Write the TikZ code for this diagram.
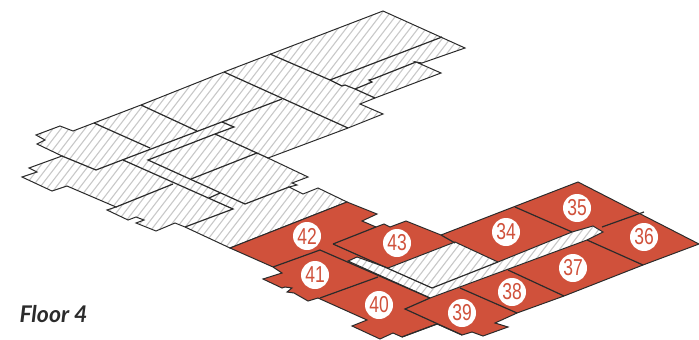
\documentclass[tikz,border=0pt]{standalone}
\usepackage{fontspec}
\setmainfont{Lato}
\newfontfamily\numfont[FakeStretch=0.76]{Liberation Sans}
\definecolor{brick}{HTML}{D0513B}
\definecolor{ink}{HTML}{2B2B2B}
\definecolor{hatch}{HTML}{C8C8C8}
\tikzset{
  wall/.style={draw=ink,line width=1pt,line join=miter},
  inner/.style={draw=ink,line width=1.2pt},
  hatchline/.style={draw=hatch,line width=1.1pt},
  numdot/.style={circle,fill=white,inner sep=0pt,minimum size=28pt,text=brick,font=\numfont\fontsize{23}{23}\selectfont},
  caption/.style={text=ink,font=\itshape\bfseries\fontsize{23}{23}\selectfont,anchor=west}
}
\def\upperoutline{(36,135)--(60,126)--(73,131)--(141,105)--(224,72)--(383,11)--(465,48)--(422,63)--(416,62)--(441,73)--(375,98)--(360,104)--(383,114)--(348,128)--(268,158)--(308,177)--(292,183)--(297,185)--(289,187)--(303,194)--(318,188)--(347,202)--(230,248)--(185,227)--(175,223)--(156,231)--(136,223)--(144,220)--(136,217)--(128,220)--(107,210)--(116,207)--(67,186)--(52,191)--(22,177)--(37,172)--(29,168)--(62,156)--(37,144)--(45,140)--cycle}
\def\holeoutline{(348,261)--(357,257)--(388,268)--(455,242)--(498,262)--(572,232)--(593,226)--(603,232)--(587,240)--(430,298)--cycle}
\begin{document}
\begin{tikzpicture}[x=1pt,y=-1pt]
\useasboundingbox (0,0) rectangle (699,340);
% upper floor hatching
\begin{scope}
  \clip \upperoutline;
  \foreach \i in {0,...,100} {
    \draw[hatchline] ({\i*8},0) -- ({\i*8-200},260);
  }
\end{scope}
\draw[wall] \upperoutline;
% upper floor walls
\draw[inner] (62,156)--(96,170)--(282,99);
\draw[inner] (94,123)--(150,148);
\draw[inner] (141,105)--(197,131);
\draw[inner] (224,72)--(348,128);
\draw[inner] (270,54)--(330,80)--(342,86)--(345,85)--(355,89)--(375,98);
\draw[inner] (330,80)--(442,37);
\draw[inner] (355,89)--(372,82)--(369,80)--(373,79)--(416,62);
\draw[inner] (222,122)--(234,127)--(215,134)--(148,160)--(245,204)--(289,187);
\draw[inner] (215,134)--(268,158);
\draw[inner] (257,153)--(191,179);
\draw[inner] (123,160)--(233,209)--(185,227);
\draw[inner] (173,184)--(116,207);
\draw[inner] (220,193)--(209,198);
% red wing
\fill[brick,draw=ink,line width=1pt]
  (230,248)--(347,202)--(377,214)--(362,221)--(376,227)--(384,224)--(390,227)--(406,221)--(441,235)--(578,182)--(699,244)--(643,265)--(564,296)--(517,313)--(495,323)--(508,327)--(483,336)--(472,332)--(462,335)--(437,324)--(402,337)--(393,333)--(380,339)--(352,326)--(367,320)--(318,298)--(308,301)--(294,293)--(287,292)--(292,288)--(285,287)--(282,288)--(263,279)--(282,273)--(273,267)--cycle;
% corridor inside the red wing
\fill[white] \holeoutline;
\begin{scope}
  \clip \holeoutline;
  \foreach \i in {0,...,100} {
    \draw[hatchline] ({\i*8+4},150) -- ({\i*8+4-200},410);
  }
\end{scope}
\draw[wall] \holeoutline;
% red wing walls
\draw[inner] (273,267)--(320,250)--(430,298);
\draw[inner] (320,298)--(378,277);
\draw[inner] (333,244)--(376,227);
\draw[inner] (333,244)--(432,288)--(498,262);
\draw[inner] (455,243)--(441,235);
\draw[inner] (430,298)--(405,309)--(462,335);
\draw[inner] (437,324)--(402,337);
\draw[inner] (460,288)--(517,313);
\draw[inner] (508,270)--(564,296);
\draw[inner] (587,240)--(643,265);
\draw[inner] (602,227)--(644,212);
\draw[inner] (515,207)--(572,232);
% room numbers
\node[numdot] (n42) at (307,236) {42};
\node[numdot] (n43) at (397,243) {43};
\node[numdot] (n41) at (315,275) {41};
\node[numdot] (n40) at (379,305) {40};
\node[numdot] (n39) at (462,313) {39};
\node[numdot] (n38) at (512,292) {38};
\node[numdot] (n37) at (573,268) {37};
\node[numdot] (n36) at (644,237) {36};
\node[numdot] (n35) at (577,208) {35};
\node[numdot] (n34) at (506,232) {34};
\node[caption] (floor) at (16,314) {Floor 4};
\end{tikzpicture}
\end{document}
